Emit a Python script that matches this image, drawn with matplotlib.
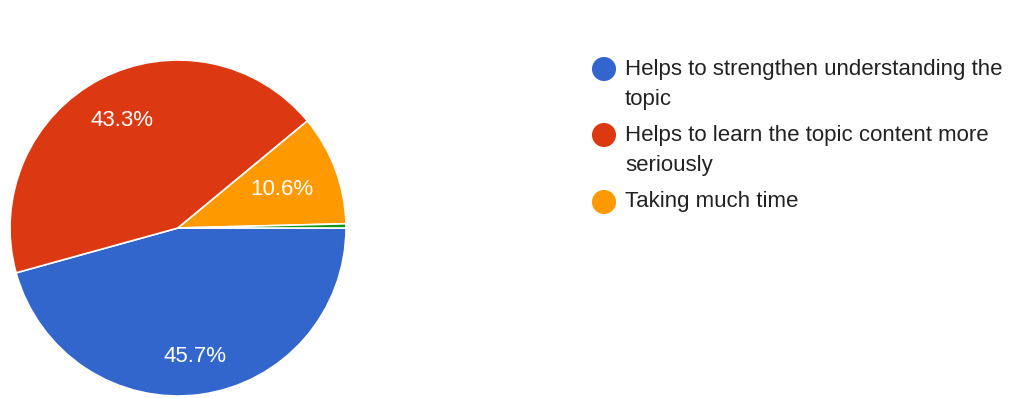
import matplotlib
matplotlib.use("Agg")
import matplotlib.pyplot as plt
from matplotlib.transforms import Bbox

labels = ["Helps to strengthen understanding the topic",
          "Helps to learn the topic content more seriously",
          "Taking much time",
          "Other"]
legend_lines = [["Helps to strengthen understanding the", "topic"],
                ["Helps to learn the topic content more", "seriously"],
                ["Taking much time"]]
shares = [45.7, 43.3, 10.6, 0.4]
colors = ["#3366cc", "#dc3912", "#ff9900", "#109618"]
label_dist = [0.77, 0.72, 0.66, 0.7]

plt.rcParams["font.family"] = ["Liberation Sans", "DejaVu Sans"]

W, H = 1011, 398
fig = plt.figure(figsize=(W / 100, H / 100), dpi=100)
ax = fig.add_axes([0, 0, 1, 1])

cx, cy, r = 178, H - 228, 168
wedges, texts, autotexts = ax.pie(
    shares, colors=colors, startangle=0, counterclock=False,
    center=(cx, cy), radius=r, frame=True,
    autopct=lambda p: f"{p:.1f}%" if p >= 5 else "",
    pctdistance=0.72,
    wedgeprops=dict(edgecolor="white", linewidth=1.2),
    textprops=dict(color="white", fontsize=16))
ax.set_xlim(0, W)
ax.set_ylim(0, H)
ax.axis("off")

# push each percentage label to its own radial distance
for t, d in zip(autotexts, label_dist):
    x, y = t.get_position()
    t.set_position((cx + (x - cx) / 0.72 * d, cy + (y - cy) / 0.72 * d))

# legend: colored dots with wrapped text, clipped at the right edge
clip = Bbox.from_extents(0, 0, 1003, H)
ys = [69, 135, 202]
for lines, y, c in zip(legend_lines, ys, colors):
    ax.scatter([604], [H - y], s=300, color=c, edgecolors="none")
    for i, line in enumerate(lines):
        t = ax.text(625, H - y - i * 30, line, fontsize=16, color="#222222",
                    va="center", ha="left")
        t.set_clip_box(clip)
        t.set_clip_on(True)

fig.savefig("out.png", dpi=100, facecolor="white")
